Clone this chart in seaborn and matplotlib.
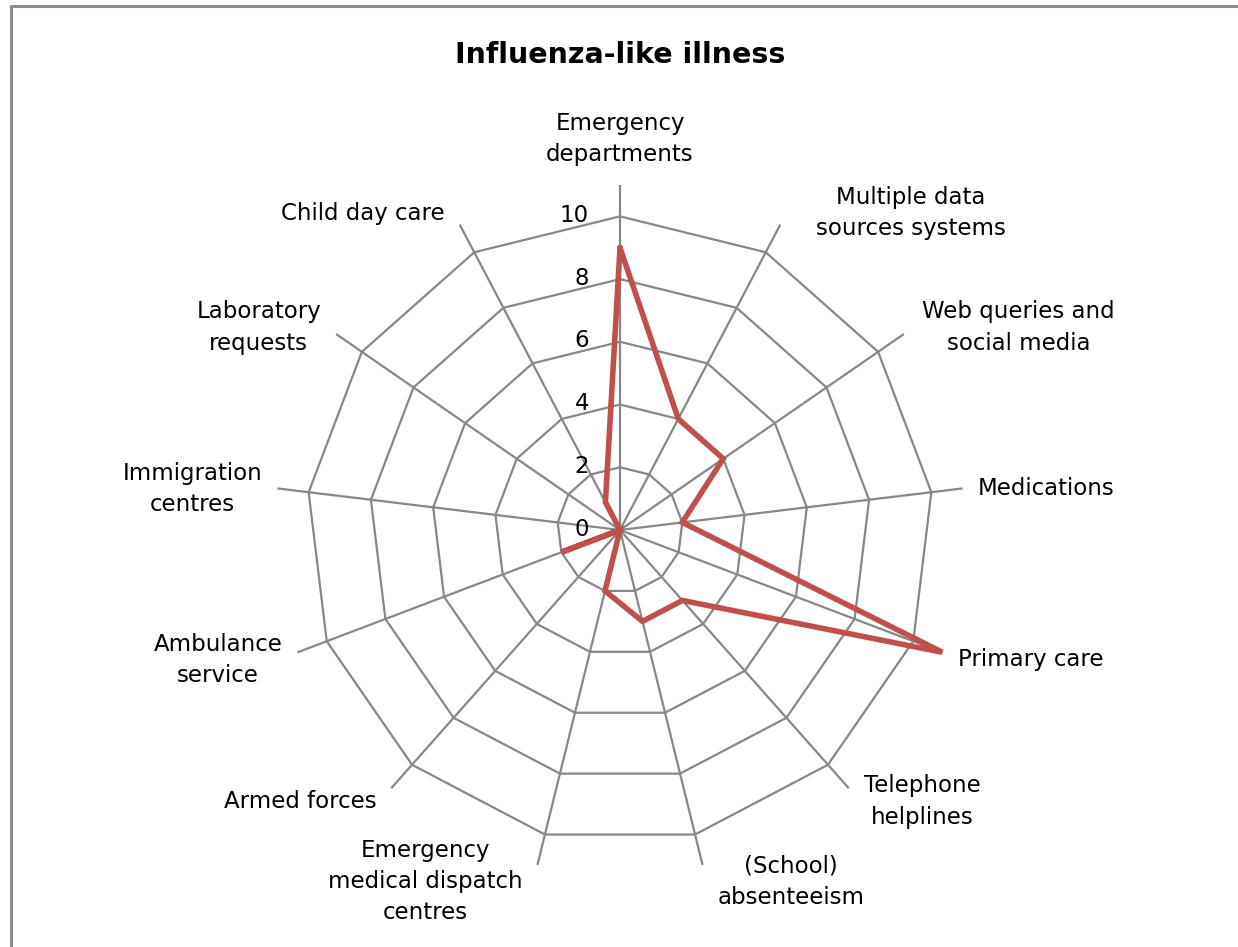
import numpy as np
import matplotlib
matplotlib.use("Agg")
import matplotlib.pyplot as plt
import seaborn as sns
from matplotlib.lines import Line2D

sns.set_theme(style="white")
plt.rcParams['font.family'] = ['DejaVu Sans']

categories = [
    "Emergency\ndepartments",
    "Multiple data\nsources systems",
    "Web queries and\nsocial media",
    "Medications",
    "Primary care",
    "Telephone\nhelplines",
    "(School)\nabsenteeism",
    "Emergency\nmedical dispatch\ncentres",
    "Armed forces",
    "Ambulance\nservice",
    "Immigration\ncentres",
    "Laboratory\nrequests",
    "Child day care",
]
values = [9, 4, 4, 2, 11, 3, 3, 2, 0, 2, 0, 0, 1]
ring_ticks = [0, 2, 4, 6, 8, 10]
title = "Influenza-like illness"

W, H = 1238, 947
fig = plt.figure(figsize=(W / 100, H / 100), dpi=100)
fig.patch.set_facecolor("white")

cx, cy = 620, 530
rmax = 11
rpx = 345
ax = fig.add_axes([(cx - rpx) / W, (H - cy - rpx) / H, 2 * rpx / W, 2 * rpx / H],
                  projection="polar")
ax.set_theta_offset(np.pi / 2)
ax.set_theta_direction(-1)
ax.set_ylim(0, rmax)
ax.grid(False)
ax.spines["polar"].set_visible(False)
ax.patch.set_alpha(0)

n = len(categories)
theta = np.arange(n) * 2 * np.pi / n
grid_col = "#878787"

# ring polygons
for r in ring_ticks[1:]:
    tt = np.append(theta, theta[0])
    ax.plot(tt, [r] * (n + 1), color=grid_col, lw=1.6, zorder=1, solid_joinstyle="miter")
# spokes
for t in theta:
    ax.plot([t, t], [0, rmax], color=grid_col, lw=1.6, zorder=1)

# data
df_t = np.append(theta, theta[0])
df_v = values + values[:1]
sns.lineplot(x=df_t, y=df_v, ax=ax, sort=False, color="#C0504D", lw=4.0,
             zorder=3, estimator=None, legend=False)
ax.lines[-1].set_solid_joinstyle("miter")
ax.set_xlabel("")
ax.set_ylabel("")
ax.set_xticks([])
ax.set_yticks([])
ax.set_ylim(0, rmax)

# ring labels
for r in ring_ticks:
    ax.annotate(str(r), xy=(0, r), xytext=(-31, 1), textcoords="offset pixels",
                ha="right", va="center", fontsize=16.5, color="black")

# category labels
for t, lab in zip(theta, categories):
    s, c = np.sin(t), np.cos(t)
    if abs(s) < 0.1:
        ha, va, off = "center", "bottom", (0, 19)
    else:
        ha = "left" if s > 0 else "right"
        va = "center"
        extra = 33 * max(c, 0) ** 4 if s > 0 else 0
        off = (15 * np.sign(s) + extra, -2 + 15 * c)
    ax.annotate(lab, xy=(t, rmax), xytext=off, textcoords="offset pixels",
                ha=ha, va=va, multialignment="center", fontsize=16.5,
                color="black", linespacing=1.45, annotation_clip=False)

fig.text(620 / W, 1 - 55 / H, title, ha="center", va="center",
         fontsize=20.5, fontweight="bold", color="black")

# chart border (top and left)
fig.add_artist(Line2D([10.5 / W, 1], [1 - 6.5 / H, 1 - 6.5 / H], color="#8c8c8c", lw=2.2,
                      transform=fig.transFigure))
fig.add_artist(Line2D([10.5 / W, 10.5 / W], [0, 1 - 6.5 / H], color="#8c8c8c", lw=2.2,
                      transform=fig.transFigure))

fig.savefig("out.png", dpi=100, facecolor="white")
